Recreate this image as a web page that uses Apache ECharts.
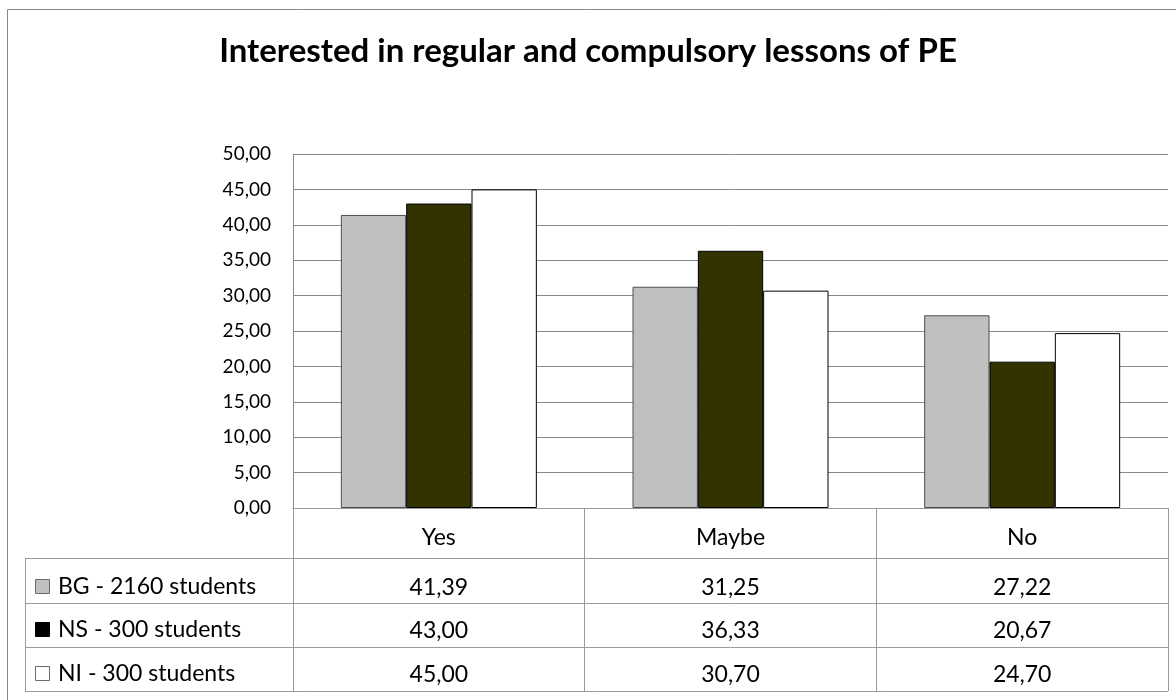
<!DOCTYPE html>
<html>
<head>
<meta charset="utf-8">
<script src="https://cdn.jsdelivr.net/npm/echarts@6/dist/echarts.min.js"></script>
<style>
  html, body { margin: 0; padding: 0; background: #fff; }
  #chart { width: 1176px; height: 700px; }
</style>
</head>
<body>
<div id="chart"></div>
<script>
// ---- data ----
const categories = ['Yes', 'Maybe', 'No'];
const seriesNames = ['BG - 2160 students', 'NS - 300 students', 'NI - 300 students'];
const bgValues = [41.39, 31.25, 27.22];
const nsValues = [43.00, 36.33, 20.67];
const niValues = [45.00, 30.70, 24.70];
const yMin = 0, yMax = 50, yStep = 5;

// ---- styling ----
const FONT = 'Lato, "Open Sans", "Liberation Sans", sans-serif';
const TABLE_FONT_SIZE = 23;
const barFill = ['#c0c0c0', '#333300', '#ffffff'];
const barEdge = ['#4d4d4d', '#000000', '#000000'];
const keyFill = ['#c0c0c0', '#000000', '#ffffff'];
const keyEdge = ['#6b6b6b', '#000000', '#6b6b6b'];
const tableLine = '#9a9a9a';
const rowOffsets = [50, 95, 139];   // table row lines below the zero line
const tableDepth = 183;             // zero line to bottom of the table
const rowLabelMargins = [18, 16, 16];

const seriesData = [bgValues, nsValues, niValues];
const fmt = v => v.toFixed(2).replace('.', ',');

const chart = echarts.init(document.getElementById('chart'), null, { renderer: 'canvas' });

// one extra category axis per table row carries that row's values
const valueAxes = seriesData.map((vals, i) => ({
  type: 'category',
  gridIndex: 0,
  position: 'bottom',
  offset: rowOffsets[i],
  data: vals.map(fmt),
  axisLine: { show: true, lineStyle: { color: tableLine, width: 1 } },
  axisTick: { show: false },
  axisLabel: { interval: 0, margin: rowLabelMargins[i], fontSize: TABLE_FONT_SIZE, color: '#000', fontFamily: FONT },
  splitLine: { show: false }
}));

chart.setOption({
  animation: false,
  backgroundColor: '#ffffff',
  title: {
    text: 'Interested in regular and compulsory lessons of PE',
    left: 'center',
    top: 30,
    textStyle: { fontSize: 33, fontWeight: 'bold', color: '#000', fontFamily: FONT }
  },
  grid: { left: 293, top: 154, right: 8, bottom: 192, containLabel: false },
  xAxis: [{
    type: 'category',
    data: categories,
    axisLine: { show: true, lineStyle: { color: tableLine, width: 1 } },
    axisTick: { show: true, length: tableDepth, lineStyle: { color: tableLine, width: 1 } },
    axisLabel: { interval: 0, margin: 18, fontSize: TABLE_FONT_SIZE, color: '#000', fontFamily: FONT },
    splitLine: { show: false }
  }].concat(valueAxes),
  yAxis: {
    type: 'value',
    min: yMin, max: yMax, interval: yStep,
    axisLine: { show: true, lineStyle: { color: '#8a8a8a', width: 1 } },
    axisTick: { show: false },
    axisLabel: { margin: 22, fontSize: 19, color: '#000', fontFamily: FONT, formatter: v => fmt(v) },
    splitLine: { show: true, lineStyle: { color: '#8a8a8a', width: 1 } }
  },
  series: seriesData.map((vals, i) => ({
    name: seriesNames[i],
    type: 'bar',
    xAxisIndex: 0,
    data: vals,
    barWidth: '22.4%',
    barGap: '0%',
    itemStyle: { color: barFill[i], borderColor: barEdge[i], borderWidth: 1 }
  }))
});

// legend column of the data table, placed from the axis geometry
const y0 = chart.convertToPixel({ yAxisIndex: 0 }, 0);
const xA = chart.convertToPixel({ xAxisIndex: 0 }, categories[0]);
const xB = chart.convertToPixel({ xAxisIndex: 0 }, categories[1]);
const xLeftPlot = xA - (xB - xA) / 2;
const xRightPlot = 1176 - 8;
const tableLeft = 25;
const rowTops = rowOffsets.map(o => y0 + o);
const rowBottoms = rowTops.slice(1).concat([y0 + tableDepth]);

const graphics = [
  // frame of the chart area
  { type: 'polyline', shape: { points: [[7.5, 700], [7.5, 9.5], [1176, 9.5]] },
    style: { stroke: '#888', lineWidth: 1, fill: null }, silent: true },
  // left edge and bottom of the table
  { type: 'line', shape: { x1: tableLeft + 0.5, y1: rowTops[0], x2: tableLeft + 0.5, y2: y0 + tableDepth },
    style: { stroke: tableLine, lineWidth: 1 }, silent: true },
  { type: 'line', shape: { x1: tableLeft, y1: y0 + tableDepth + 0.5, x2: xRightPlot, y2: y0 + tableDepth + 0.5 },
    style: { stroke: tableLine, lineWidth: 1 }, silent: true }
];
seriesNames.forEach((name, i) => {
  const top = rowTops[i];
  const mid = top + rowLabelMargins[i] + TABLE_FONT_SIZE * 0.45;
  graphics.push({ type: 'line', shape: { x1: tableLeft, y1: Math.round(top) + 0.5, x2: xLeftPlot, y2: Math.round(top) + 0.5 },
    style: { stroke: tableLine, lineWidth: 1 }, silent: true });
  graphics.push({ type: 'rect', shape: { x: 35.5, y: Math.round(mid - 7) + 0.5, width: 14, height: 14 },
    style: { fill: keyFill[i], stroke: keyEdge[i], lineWidth: 1 }, silent: true });
  graphics.push({ type: 'text', x: 58, y: mid,
    style: { text: name, fontSize: TABLE_FONT_SIZE, fontFamily: FONT, fill: '#000', verticalAlign: 'middle', align: 'left' }, silent: true });
});
chart.setOption({ graphic: graphics });
</script>
</body>
</html>
